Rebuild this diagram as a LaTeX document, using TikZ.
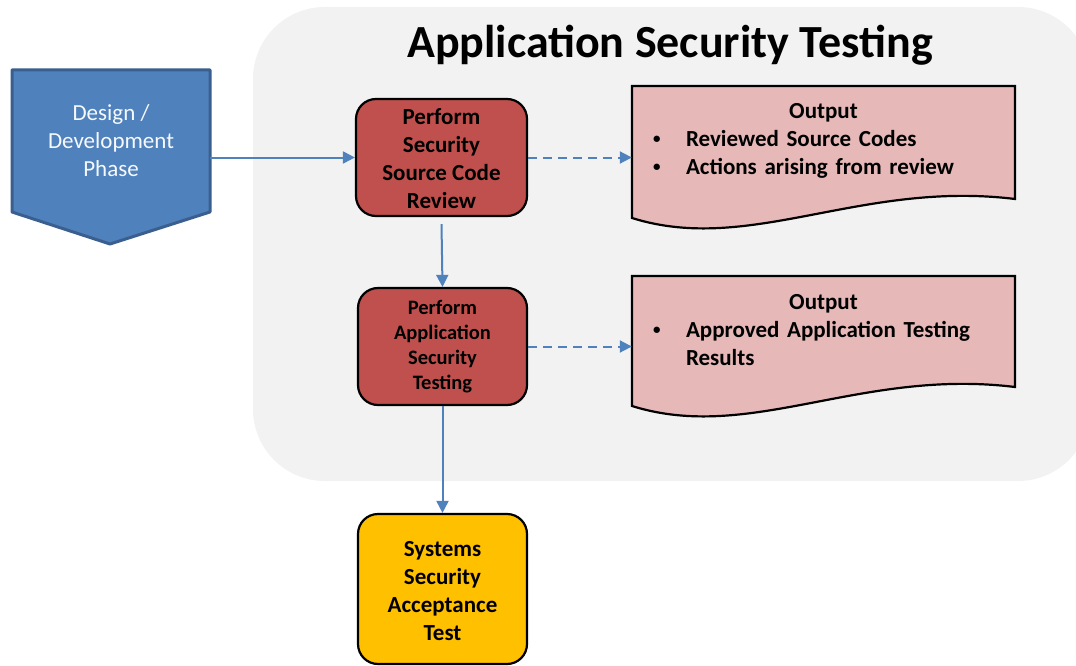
\documentclass[tikz,border=0pt]{standalone}
\usepackage{fontspec}
\setmainfont{Carlito}
\usetikzlibrary{arrows.meta}
\definecolor{panelgray}{HTML}{F2F2F2}
\definecolor{flowblue}{HTML}{4F81BD}
\definecolor{flowblueedge}{HTML}{3A5F8E}
\definecolor{taskred}{HTML}{C0504D}
\definecolor{docpink}{HTML}{E6B9B8}
\definecolor{testgold}{HTML}{FFC000}
\newcommand\bulletitem{\hspace*{21pt}\makebox[33pt][l]{\raisebox{2.5pt}{\fontsize{15}{15}\selectfont\textbullet}}}
\tikzset{
  taskbox/.style={draw=black, line width=2.2pt, rounded corners=20pt, align=center,
    font=\bfseries\fontsize{23}{28}\selectfont, inner sep=0pt, text=black},
  doctext/.style={align=left, text width=383pt, inner sep=0pt, anchor=north,
    font=\bfseries\fontsize{23}{28}\selectfont},
  docshape/.style={fill=docpink, draw=black, line width=2.2pt, line join=miter},
  flowarrow/.style={draw=flowblue, line width=2pt, -{Triangle[length=12pt,width=12pt]}},
  dasharrow/.style={flowarrow, dash pattern=on 9pt off 6pt}
}
\begin{document}
\begin{tikzpicture}[x=1pt,y=-1pt]
\useasboundingbox (0,0) rectangle (1076,666);
\fill[white] (0,0) rectangle (1076,666);
\begin{scope}
\clip (0,0) rectangle (1076,666);
\fill[panelgray, rounded corners=72pt] (253,7) rectangle (1090,481);
\end{scope}
\node[font=\bfseries\fontsize{46}{55}\selectfont, anchor=base] (title) at (670,58) {Application Security Testing};
% design pentagon
\filldraw[fill=flowblue, draw=flowblueedge, line width=3pt, line join=round]
  (12,70) -- (210,70) -- (210,212) -- (110,244) -- (12,212) -- cycle;
\node[minimum width=198pt, minimum height=142pt, inner sep=0pt, align=center,
  text=white!95!flowblue, font=\fontsize{23}{28}\selectfont] (design) at (111,141)
  {Design /\\Development\\Phase};
% task boxes
\node[taskbox, fill=taskred, minimum width=171pt, minimum height=117pt] (review) at (441.5,157.5)
  {\rule{0pt}{18pt}Perform\\Security\\Source Code\\Review};
\node[taskbox, fill=taskred, minimum width=169pt, minimum height=117pt,
  font=\bfseries\fontsize{20.5}{25}\selectfont] (apptest) at (442.5,346.5)
  {Perform\\Application\\Security\\Testing};
\node[taskbox, fill=testgold, minimum width=169pt, minimum height=150pt] (accept) at (442.5,589)
  {\rule{0pt}{20pt}Systems\\Security\\Acceptance\\Test};
% documents
\path[docshape] (632,86) -- (1015,86) -- (1015,199)
  .. controls (860,180) and (750,255) .. (632,218) -- cycle;
\path[docshape] (632,276) -- (1015,276) -- (1015,387)
  .. controls (860,368) and (750,443) .. (632,406) -- cycle;
\node[doctext] (out1) at (823.5,103)
  {\makebox[383pt]{Output}\\\bulletitem Reviewed Source Codes\\\bulletitem Actions arising from review};
\node[doctext] (out2) at (823.5,294)
  {\makebox[383pt]{Output}\\\bulletitem Approved Application Testing\\\hspace*{54pt}Results};
% connectors
\draw[flowarrow] (design.east |- review.west) -- (review.west);
\draw[flowarrow] ([yshift=-7pt]review.south) -- (apptest.north);
\draw[flowarrow] (apptest.south) -- (accept.north);
\draw[dasharrow] (review.east) -- (review.east -| out1.west);
\draw[dasharrow] (apptest.east) -- (apptest.east -| out2.west);
\end{tikzpicture}
\end{document}
